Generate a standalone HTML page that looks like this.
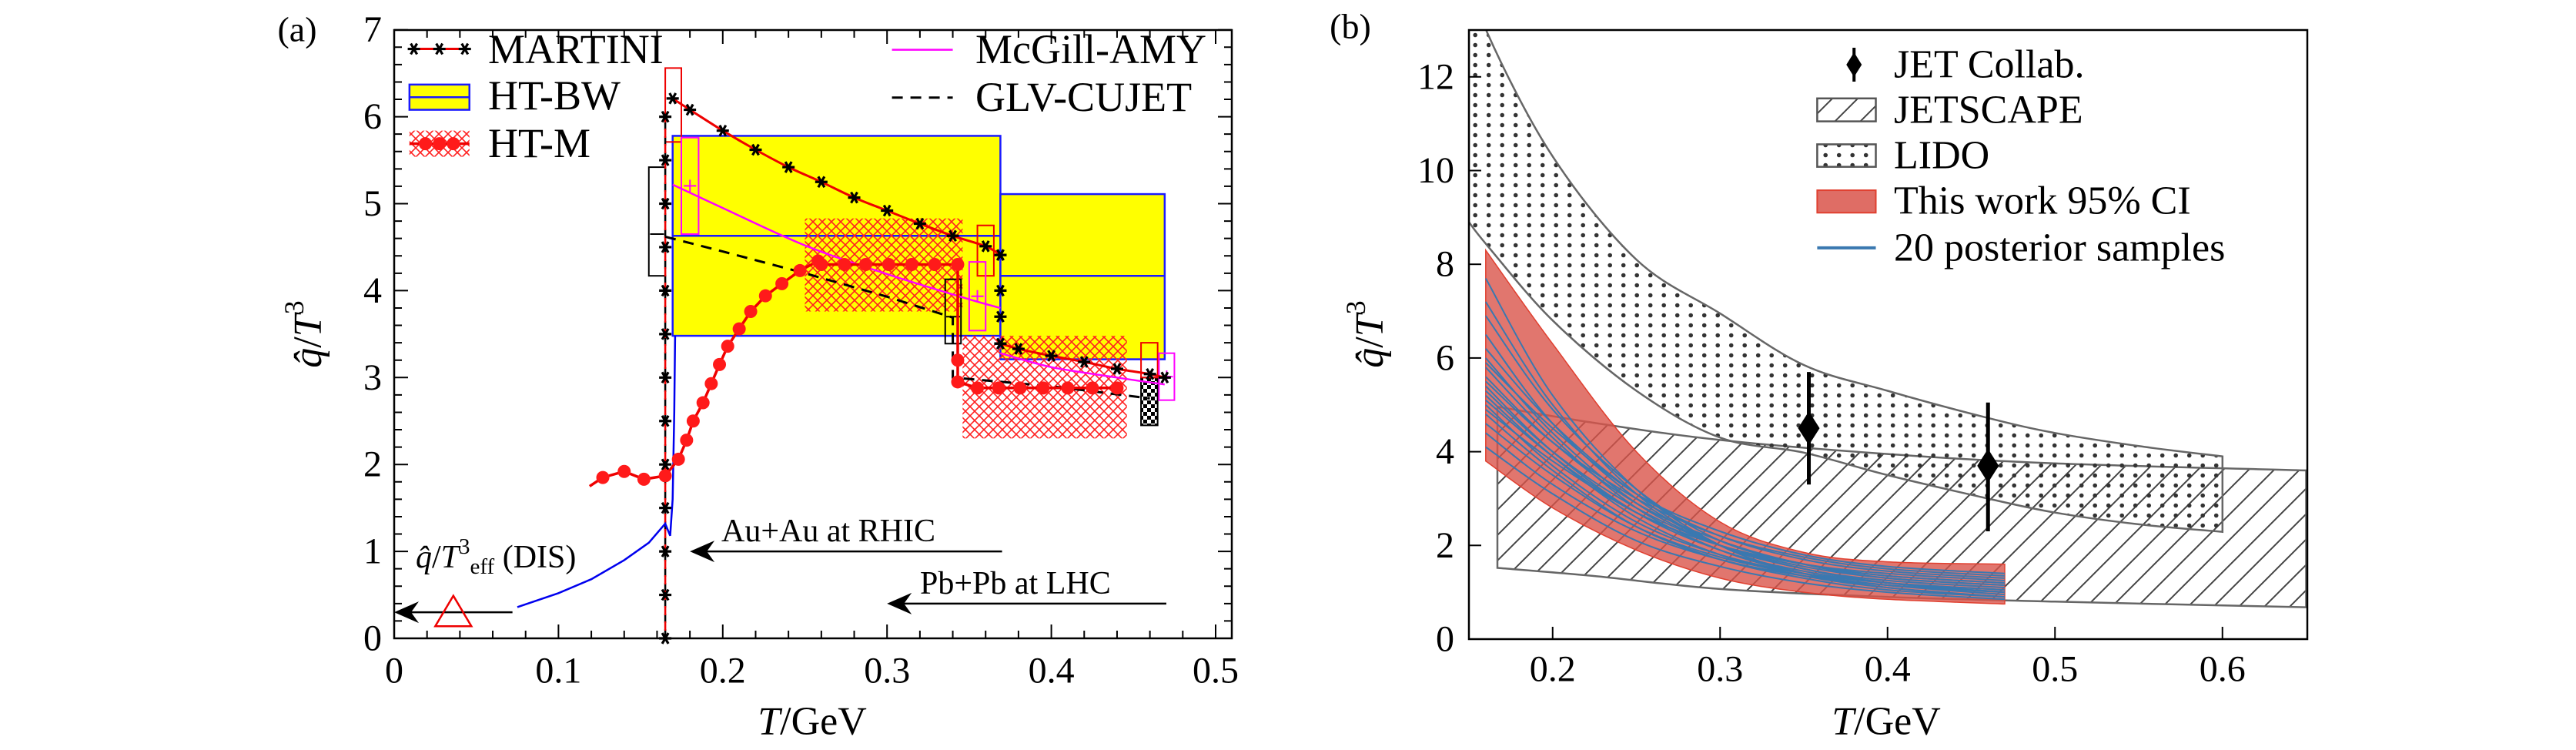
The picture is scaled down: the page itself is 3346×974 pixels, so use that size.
<!DOCTYPE html>
<html><head><meta charset="utf-8">
<style>
html,body{margin:0;padding:0;background:#fff;}
svg{display:block;font-family:"Liberation Serif","DejaVu Serif",serif;}
</style></head>
<body>
<svg id="fig" width="3346" height="974" viewBox="0 0 3346 974" xmlns="http://www.w3.org/2000/svg">
<defs>
<pattern id="xhatch" patternUnits="userSpaceOnUse" width="12" height="12"><path d="M0,0L12,12M12,0L0,12" stroke="#ff2020" stroke-width="1.6"/></pattern>
<pattern id="diag" patternUnits="userSpaceOnUse" width="33" height="33"><path d="M0,33L33,0M-6,6L6,-6M27,39L39,27" stroke="#444" stroke-width="2"/></pattern>
<pattern id="dots" patternUnits="userSpaceOnUse" width="17.5" height="13"><circle cx="8.7" cy="6.5" r="2.8" fill="#333"/></pattern>
<pattern id="checker" patternUnits="userSpaceOnUse" width="10" height="10"><rect width="5" height="5" fill="#000"/><rect x="5" y="5" width="5" height="5" fill="#000"/></pattern>
<clipPath id="clipB"><rect x="1908" y="39" width="1089" height="791"/></clipPath>
</defs>
<g id="pa"></g>
<g id="pb"></g>

<!-- static text panel a -->
<text x="386" y="38" font-size="46" text-anchor="middle" dominant-baseline="central">(a)</text>
<text transform="translate(400,434) rotate(-90)" font-size="52" text-anchor="middle" dominant-baseline="central"><tspan font-style="italic">q̂</tspan>/<tspan font-style="italic">T</tspan><tspan dy="-18" font-size="36">3</tspan></text>
<text x="1055" y="937" font-size="52" text-anchor="middle" dominant-baseline="central"><tspan font-style="italic">T</tspan>/GeV</text>
<text x="634" y="64" font-size="54" dominant-baseline="central">MARTINI</text>
<text x="634" y="124" font-size="54" dominant-baseline="central">HT-BW</text>
<text x="634" y="186" font-size="54" dominant-baseline="central">HT-M</text>
<text x="1267" y="64" font-size="54" dominant-baseline="central">McGill-AMY</text>
<text x="1267" y="126" font-size="54" dominant-baseline="central">GLV-CUJET</text>
<text x="540" y="724" font-size="42" dominant-baseline="central"><tspan font-style="italic">q̂</tspan>/<tspan font-style="italic">T</tspan><tspan dy="-14" font-size="29">3</tspan><tspan dy="26" font-size="29">eff</tspan><tspan dy="-12"> (DIS)</tspan></text>
<text x="937" y="690" font-size="42" dominant-baseline="central">Au+Au at RHIC</text>
<text x="1195" y="758" font-size="42" dominant-baseline="central">Pb+Pb at LHC</text>

<!-- static text panel b -->
<text x="1754" y="34" font-size="46" text-anchor="middle" dominant-baseline="central">(b)</text>
<text transform="translate(1779,434) rotate(-90)" font-size="52" text-anchor="middle" dominant-baseline="central"><tspan font-style="italic">q̂</tspan>/<tspan font-style="italic">T</tspan><tspan dy="-18" font-size="36">3</tspan></text>
<text x="2450" y="937" font-size="52" text-anchor="middle" dominant-baseline="central"><tspan font-style="italic">T</tspan>/GeV</text>
<text x="2460" y="84" font-size="52" dominant-baseline="central">JET Collab.</text>
<text x="2460" y="143" font-size="52" dominant-baseline="central">JETSCAPE</text>
<text x="2460" y="202" font-size="52" dominant-baseline="central">LIDO</text>
<text x="2460" y="261" font-size="52" dominant-baseline="central">This work 95% CI</text>
<text x="2460" y="322" font-size="52" dominant-baseline="central">20 posterior samples</text>

<script>
// ===== Panel A data =====
const aXTicks = [0, 0.1, 0.2, 0.3, 0.4, 0.5];
const aXTickLabels = ["0", "0.1", "0.2", "0.3", "0.4", "0.5"];
const aYTicks = [0, 1, 2, 3, 4, 5, 6, 7];
const aYTickLabels = ["0", "1", "2", "3", "4", "5", "6", "7"];
const martiniVertT = 0.165;
const martiniVertQ = [0, 0.5, 1, 1.5, 2, 2.5, 3, 3.5, 4, 4.5, 5, 5.5, 6];
const martiniT1 = [0.1695, 0.18, 0.2, 0.22, 0.24, 0.26, 0.28, 0.30, 0.32, 0.34, 0.36, 0.369];
const martiniQ1 = [6.21, 6.08, 5.84, 5.62, 5.42, 5.25, 5.07, 4.92, 4.77, 4.63, 4.51, 4.41];
const martiniDropT = 0.369;
const martiniDropQ = [4.41, 4.0, 3.7, 3.39];
const martiniT2 = [0.369, 0.38, 0.40, 0.42, 0.44, 0.46, 0.469];
const martiniQ2 = [3.39, 3.33, 3.25, 3.18, 3.10, 3.04, 3.0];
const htmT = [0.119, 0.127, 0.14, 0.152, 0.165, 0.173, 0.178, 0.182, 0.188, 0.193, 0.198, 0.203, 0.21, 0.217, 0.226, 0.236, 0.247, 0.258, 0.26, 0.274, 0.287, 0.301, 0.315, 0.329, 0.343, 0.343, 0.343, 0.343, 0.355, 0.368, 0.381, 0.395, 0.41, 0.425, 0.44];
const htmQ = [1.75, 1.85, 1.92, 1.83, 1.87, 2.06, 2.28, 2.5, 2.71, 2.93, 3.15, 3.36, 3.56, 3.76, 3.94, 4.08, 4.23, 4.34, 4.3, 4.3, 4.3, 4.3, 4.3, 4.3, 4.3, 3.66, 3.2, 2.95, 2.88, 2.88, 2.88, 2.88, 2.88, 2.88, 2.88];
const htmDot = [0, 1, 1, 1, 1, 1, 1, 1, 1, 1, 1, 1, 1, 1, 1, 1, 1, 1, 1, 1, 1, 1, 1, 1, 1, 0, 1, 1, 1, 1, 1, 1, 1, 1, 1];
const htmBoxT0 = [0.25, 0.346];
const htmBoxT1 = [0.346, 0.446];
const htmBoxLo = [3.76, 2.3];
const htmBoxHi = [4.83, 3.48];
const htbwT0 = [0.1695, 0.369];
const htbwT1 = [0.369, 0.469];
const htbwLo = [3.48, 3.21];
const htbwMid = [4.63, 4.17];
const htbwHi = [5.78, 5.11];
const amyT1 = [0.1695, 0.2, 0.25, 0.3, 0.35, 0.369];
const amyQ1 = [5.22, 4.95, 4.52, 4.19, 3.9, 3.8];
const amyT2 = [0.369, 0.4, 0.44, 0.469];
const amyQ2 = [3.28, 3.12, 3.0, 2.92];
const amyBoxT0 = [0.1748, 0.35, 0.4655];
const amyBoxT1 = [0.1853, 0.36, 0.4749];
const amyBoxLo = [4.65, 3.54, 2.74];
const amyBoxHi = [5.76, 4.33, 3.28];
const redBoxT0 = [0.165, 0.355, 0.4546];
const redBoxT1 = [0.1748, 0.365, 0.4647];
const redBoxLo = [5.71, 4.17, 3.0];
const redBoxHi = [6.56, 4.75, 3.4];
const blkBoxT0 = [0.155, 0.3354];
const blkBoxT1 = [0.165, 0.345];
const blkBoxLo = [4.17, 3.39];
const blkBoxHi = [5.42, 4.13];
const blkBoxMid = [4.65, 3.7];
const glvT = [0.165, 0.2, 0.25, 0.3, 0.34, 0.34, 0.4, 0.46];
const glvQ = [4.62, 4.45, 4.2, 3.93, 3.69, 3.0, 2.9, 2.76];
const blueT = [0.075, 0.1, 0.12, 0.14, 0.155, 0.165, 0.168, 0.1695, 0.1705, 0.171];
const blueQ = [0.36, 0.52, 0.68, 0.9, 1.1, 1.32, 1.18, 1.6, 2.6, 3.48];

// ===== Panel B data =====
const bXTicks = [0.2, 0.3, 0.4, 0.5, 0.6];
const bXTickLabels = ["0.2", "0.3", "0.4", "0.5", "0.6"];
const bYTicks = [0, 2, 4, 6, 8, 10, 12];
const bYTickLabels = ["0", "2", "4", "6", "8", "10", "12"];
const lidoT = [0.15, 0.161, 0.2, 0.25, 0.3, 0.35, 0.4, 0.46, 0.5, 0.55, 0.6];
const lidoUp = [14.3, 12.94, 10.3, 8.1, 6.95, 5.85, 5.3, 4.72, 4.4, 4.12, 3.9];
const lidoLo = [8.9, 8.4, 6.8, 5.3, 4.3, 3.98, 3.5, 3.0, 2.7, 2.45, 2.29];
const jsT = [0.167, 0.224, 0.3, 0.4, 0.5, 0.65];
const jsUp = [4.96, 4.62, 4.25, 3.95, 3.75, 3.6];
const jsLo = [1.52, 1.35, 1.07, 0.9, 0.8, 0.68];
const bandT = [0.16, 0.2, 0.25, 0.3, 0.35, 0.4, 0.47];
const bandUp = [8.3, 6.3, 4.0, 2.5, 1.85, 1.65, 1.6];
const bandLo = [3.8, 2.8, 1.9, 1.3, 1.0, 0.85, 0.75];
const s01 = [7.7, 5.2, 3.2, 2.0, 1.4, 1.1, 0.9];
const s02 = [7.2, 5.0, 3.1, 2.0, 1.5, 1.2, 1.0];
const s03 = [6.9, 4.9, 3.2, 2.1, 1.6, 1.3, 1.15];
const s04 = [6.5, 4.6, 3.0, 2.0, 1.5, 1.25, 1.1];
const s05 = [6.2, 4.6, 3.1, 2.2, 1.7, 1.45, 1.3];
const s06 = [6.0, 4.4, 2.9, 2.0, 1.5, 1.2, 1.0];
const s07 = [5.9, 4.5, 3.1, 2.3, 1.8, 1.55, 1.4];
const s08 = [5.8, 4.3, 2.8, 1.9, 1.4, 1.15, 0.95];
const s09 = [5.6, 4.2, 2.9, 2.1, 1.6, 1.35, 1.2];
const s10 = [5.5, 4.2, 3.0, 2.2, 1.75, 1.5, 1.35];
const s11 = [5.4, 4.0, 2.7, 1.9, 1.45, 1.2, 1.05];
const s12 = [5.3, 4.0, 2.8, 2.0, 1.55, 1.3, 1.15];
const s13 = [5.2, 3.9, 2.6, 1.8, 1.35, 1.1, 0.9];
const s14 = [5.1, 3.9, 2.7, 2.0, 1.6, 1.4, 1.25];
const s15 = [5.0, 3.7, 2.5, 1.8, 1.4, 1.15, 1.0];
const s16 = [4.9, 3.8, 2.7, 2.0, 1.6, 1.35, 1.2];
const s17 = [4.8, 3.6, 2.4, 1.7, 1.3, 1.05, 0.9];
const s18 = [4.6, 3.5, 2.4, 1.75, 1.4, 1.2, 1.05];
const s19 = [4.4, 3.3, 2.3, 1.7, 1.35, 1.15, 1.0];
const s20 = [4.1, 3.1, 2.1, 1.55, 1.2, 1.0, 0.85];
const samples = [s01, s02, s03, s04, s05, s06, s07, s08, s09, s10, s11, s12, s13, s14, s15, s16, s17, s18, s19, s20];
const jetT = [0.353, 0.46];
const jetQ = [4.5, 3.7];
const jetLo = [3.3, 2.3];
const jetHi = [5.7, 5.05];

// ===== helpers =====
const NS = "http://www.w3.org/2000/svg";
function xa(v) { return 512 + v * 2134; }
function ya(v) { return 829 - v * 112.9; }
function xb(v) { return 1908 + (v - 0.15) * 2175; }
function yb(v) { return 830 - v * 60.85; }
function mk(parent, tag, attrs, name, inter) {
  const el = document.createElementNS(NS, tag);
  for (const k in attrs) el.setAttribute(k, attrs[k]);
  
  
  parent.appendChild(el);
  return el;
}
function linPath(xs, ys, fx, fy) {
  return xs.map((t, i) => (i ? 'L' : 'M') + fx(t).toFixed(1) + ',' + fy(ys[i]).toFixed(1)).join('');
}
function smoothPts(pts, start) {
  let d = (start ? 'M' : 'L') + pts[0][0].toFixed(1) + ',' + pts[0][1].toFixed(1);
  for (let i = 0; i < pts.length - 1; i++) {
    const p0 = pts[Math.max(i - 1, 0)], p1 = pts[i], p2 = pts[i + 1], p3 = pts[Math.min(i + 2, pts.length - 1)];
    const c1 = [p1[0] + (p2[0] - p0[0]) / 6, p1[1] + (p2[1] - p0[1]) / 6];
    const c2 = [p2[0] - (p3[0] - p1[0]) / 6, p2[1] - (p3[1] - p1[1]) / 6];
    d += 'C' + c1[0].toFixed(1) + ',' + c1[1].toFixed(1) + ' ' + c2[0].toFixed(1) + ',' + c2[1].toFixed(1) + ' ' + p2[0].toFixed(1) + ',' + p2[1].toFixed(1);
  }
  return d;
}
function smoothPath(xs, ys, fx, fy) { return smoothPts(xs.map((t, i) => [fx(t), fy(ys[i])]), true); }
function bandPath(xs, up, lo, fx, fy) {
  const top = xs.map((t, i) => [fx(t), fy(up[i])]);
  const bot = xs.map((t, i) => [fx(t), fy(lo[i])]).reverse();
  return smoothPts(top, true) + smoothPts(bot, false) + 'Z';
}
function star(parent, cx, cy, name) {
  const r = 8;
  const d = `M${cx - r},${cy}L${cx + r},${cy}M${cx - r / 2},${cy - r * 0.87}L${cx + r / 2},${cy + r * 0.87}M${cx - r / 2},${cy + r * 0.87}L${cx + r / 2},${cy - r * 0.87}`;
  mk(parent, 'path', { d: d, stroke: '#000', 'stroke-width': 3.2, fill: 'none' }, name, false);
}

// ===== Panel A =====
const A = document.getElementById('pa');
htbwT0.forEach((t0, i) => {
  mk(A, 'rect', { x: xa(t0), y: ya(htbwHi[i]), width: xa(htbwT1[i]) - xa(t0), height: ya(htbwLo[i]) - ya(htbwHi[i]), fill: '#ffff00', stroke: '#1a1aff', 'stroke-width': 2.5 }, 'htbw-box', false);
  mk(A, 'line', { x1: xa(t0), x2: xa(htbwT1[i]), y1: ya(htbwMid[i]), y2: ya(htbwMid[i]), stroke: '#1a1aff', 'stroke-width': 2.5 }, 'htbw-mid-line', false);
});
htmBoxT0.forEach((t0, i) => {
  mk(A, 'rect', { x: xa(t0), y: ya(htmBoxHi[i]), width: xa(htmBoxT1[i]) - xa(t0), height: ya(htmBoxLo[i]) - ya(htmBoxHi[i]), fill: 'url(#xhatch)' }, 'htm-band', false);
});
blkBoxT0.forEach((t0, i) => {
  mk(A, 'rect', { x: xa(t0), y: ya(blkBoxHi[i]), width: xa(blkBoxT1[i]) - xa(t0), height: ya(blkBoxLo[i]) - ya(blkBoxHi[i]), fill: 'none', stroke: '#000', 'stroke-width': 2 }, 'glv-error-box', false);
  const cx = (xa(t0) + xa(blkBoxT1[i])) / 2;
  mk(A, 'path', { d: `M${cx - 9},${ya(blkBoxMid[i])}L${cx + 9},${ya(blkBoxMid[i])}`, stroke: '#000', 'stroke-width': 2 }, 'glv-box-center', false);
});
mk(A, 'rect', { x: xa(0.4546), y: ya(3.0), width: xa(0.4647) - xa(0.4546), height: ya(2.45) - ya(3.0), fill: 'url(#checker)', stroke: '#000', 'stroke-width': 2 }, 'glv-checker-box', false);
redBoxT0.forEach((t0, i) => {
  mk(A, 'rect', { x: xa(t0), y: ya(redBoxHi[i]), width: xa(redBoxT1[i]) - xa(t0), height: ya(redBoxLo[i]) - ya(redBoxHi[i]), fill: 'none', stroke: '#e00', 'stroke-width': 2 }, 'htm-error-box', false);
});
amyBoxT0.forEach((t0, i) => {
  mk(A, 'rect', { x: xa(t0), y: ya(amyBoxHi[i]), width: xa(amyBoxT1[i]) - xa(t0), height: ya(amyBoxLo[i]) - ya(amyBoxHi[i]), fill: 'none', stroke: '#ff00ff', 'stroke-width': 2 }, 'amy-error-box', false);
  const cx = (xa(t0) + xa(amyBoxT1[i])) / 2, cy = ya((amyBoxHi[i] + amyBoxLo[i]) / 2);
  mk(A, 'path', { d: `M${cx - 8},${cy}L${cx + 8},${cy}M${cx},${cy - 8}L${cx},${cy + 8}`, stroke: '#ff00ff', 'stroke-width': 2 }, 'amy-box-center', false);
});
mk(A, 'line', { x1: xa(martiniVertT), x2: xa(martiniVertT), y1: ya(0), y2: ya(6.0), stroke: '#000', 'stroke-width': 2.5, 'stroke-dasharray': '12 8' }, 'tc-black-dashed', false);
mk(A, 'line', { x1: xa(martiniVertT), x2: xa(martiniVertT), y1: ya(0), y2: ya(6.0), stroke: '#e00', 'stroke-width': 2.5, 'stroke-dasharray': '12 8', 'stroke-dashoffset': 10 }, 'tc-red-dashed', false);
mk(A, 'path', { d: linPath(blueT, blueQ, xa, ya), fill: 'none', stroke: '#0000ee', 'stroke-width': 2.5 }, 'blue-curve', false);
mk(A, 'path', { d: linPath(glvT, glvQ, xa, ya), fill: 'none', stroke: '#000', 'stroke-width': 3, 'stroke-dasharray': '14 10' }, 'glv-cujet-line', false);
mk(A, 'path', { d: smoothPath(amyT1, amyQ1, xa, ya), fill: 'none', stroke: '#ff00ff', 'stroke-width': 2.5 }, 'mcgill-amy-line', false);
mk(A, 'path', { d: smoothPath(amyT2, amyQ2, xa, ya), fill: 'none', stroke: '#ff00ff', 'stroke-width': 2.5 }, 'mcgill-amy-line', false);
mk(A, 'path', { d: smoothPath(martiniT1, martiniQ1, xa, ya), fill: 'none', stroke: '#e00', 'stroke-width': 3 }, 'martini-line', false);
mk(A, 'path', { d: smoothPath(martiniT2, martiniQ2, xa, ya), fill: 'none', stroke: '#e00', 'stroke-width': 3 }, 'martini-line', false);
martiniVertQ.forEach(q => star(A, xa(martiniVertT), ya(q), 'martini-point'));
martiniT1.forEach((t, i) => star(A, xa(t), ya(martiniQ1[i]), 'martini-point'));
martiniDropQ.forEach(q => star(A, xa(martiniDropT), ya(q), 'martini-point'));
martiniT2.forEach((t, i) => star(A, xa(t), ya(martiniQ2[i]), 'martini-point'));
mk(A, 'path', { d: linPath(htmT, htmQ, xa, ya), fill: 'none', stroke: '#e00', 'stroke-width': 3.5 }, 'htm-line', false);
htmT.forEach((t, i) => {
  if (htmDot[i]) mk(A, 'circle', { cx: xa(t), cy: ya(htmQ[i]), r: 8.5, fill: '#ff1a1a' }, 'htm-point', false);
});
function arrow(x1, x2, y, name) {
  mk(A, 'line', { x1: x1, x2: x2 + 20, y1: y, y2: y, stroke: '#000', 'stroke-width': 2.5 }, name, false);
  mk(A, 'path', { d: `M${x2},${y}L${x2 + 32},${y - 14}L${x2 + 22},${y}L${x2 + 32},${y + 14}Z`, fill: '#000' }, name + '-head', false);
}
arrow(xa(0.072), xa(0.0), ya(0.3), 'dis-arrow');
arrow(xa(0.37), xa(0.18), ya(1.0), 'rhic-arrow');
arrow(xa(0.47), xa(0.3), ya(0.4), 'lhc-arrow');
mk(A, 'path', { d: `M${xa(0.036)},${ya(0.49)}L${xa(0.047)},${ya(0.14)}L${xa(0.025)},${ya(0.14)}Z`, fill: 'none', stroke: '#e00', 'stroke-width': 2.5 }, 'dis-triangle', false);
mk(A, 'line', { x1: xa(0.0093), x2: xa(0.0458), y1: ya(6.78), y2: ya(6.78), stroke: '#e00', 'stroke-width': 3 }, 'legend-martini-line', false);
[0.012, 0.0275, 0.043].forEach(t => star(A, xa(t), ya(6.78), 'legend-martini-marker'));
mk(A, 'rect', { x: xa(0.0093), y: ya(6.37), width: xa(0.0458) - xa(0.0093), height: ya(6.08) - ya(6.37), fill: '#ffff00', stroke: '#1a1aff', 'stroke-width': 2.5 }, 'legend-htbw-swatch', false);
mk(A, 'line', { x1: xa(0.0093), x2: xa(0.0458), y1: ya(6.225), y2: ya(6.225), stroke: '#1a1aff', 'stroke-width': 2.5 }, 'legend-htbw-mid', false);
mk(A, 'rect', { x: xa(0.0093), y: ya(5.84), width: xa(0.0458) - xa(0.0093), height: ya(5.54) - ya(5.84), fill: 'url(#xhatch)' }, 'legend-htm-swatch', false);
mk(A, 'line', { x1: xa(0.0093), x2: xa(0.0458), y1: ya(5.69), y2: ya(5.69), stroke: '#e00', 'stroke-width': 3.5 }, 'legend-htm-line', false);
[0.019, 0.0275, 0.036].forEach(t => mk(A, 'circle', { cx: xa(t), cy: ya(5.69), r: 8.5, fill: '#ff1a1a' }, 'legend-htm-marker', false));
mk(A, 'line', { x1: xa(0.303), x2: xa(0.34), y1: ya(6.77), y2: ya(6.77), stroke: '#ff00ff', 'stroke-width': 2.5 }, 'legend-mcgill-line', false);
mk(A, 'line', { x1: xa(0.303), x2: xa(0.34), y1: ya(6.22), y2: ya(6.22), stroke: '#000', 'stroke-width': 3, 'stroke-dasharray': '14 10' }, 'legend-glv-line', false);
mk(A, 'rect', { x: 512, y: 39, width: 1088, height: 790, fill: 'none', stroke: '#000', 'stroke-width': 2.5 }, 'plot-frame-a', false);
for (let k = 0; k <= 27; k++) {
  const t = k * 0.02; if (xa(t) > 1600) break;
  const L = (k % 5 === 0) ? 18 : 10;
  mk(A, 'path', { d: `M${xa(t)},829L${xa(t)},${829 - L}M${xa(t)},39L${xa(t)},${39 + L}`, stroke: '#000', 'stroke-width': 2 }, 'x-tick-a', false);
}
for (let k = 0; k <= 35; k++) {
  const q = k * 0.2; const L = (k % 5 === 0) ? 18 : 10;
  mk(A, 'path', { d: `M512,${ya(q)}L${512 + L},${ya(q)}M1600,${ya(q)}L${1600 - L},${ya(q)}`, stroke: '#000', 'stroke-width': 2 }, 'y-tick-a', false);
}
aXTicks.forEach((t, i) => { const e = mk(A, 'text', { x: xa(t), y: 871, 'font-size': 48, 'text-anchor': 'middle', 'dominant-baseline': 'central' }, 'x-tick-label-a', false); e.textContent = aXTickLabels[i]; });
aYTicks.forEach((q, i) => { const e = mk(A, 'text', { x: 496, y: ya(q), 'font-size': 48, 'text-anchor': 'end', 'dominant-baseline': 'central' }, 'y-tick-label-a', false); e.textContent = aYTickLabels[i]; });

// ===== Panel B =====
const B = document.getElementById('pb');
const Bc = mk(B, 'g', { 'clip-path': 'url(#clipB)' }, 'panel-b-plot-area', false);
mk(Bc, 'path', { d: bandPath(jsT, jsUp, jsLo, xb, yb), fill: 'url(#diag)', stroke: '#666', 'stroke-width': 2.5 }, 'jetscape-band', false);
mk(Bc, 'path', { d: bandPath(lidoT, lidoUp, lidoLo, xb, yb), fill: 'url(#dots)', stroke: '#666', 'stroke-width': 2.5 }, 'lido-band', false);
mk(Bc, 'path', { d: bandPath(bandT, bandUp, bandLo, xb, yb), fill: '#d9544a', 'fill-opacity': 0.8, stroke: '#e04030', 'stroke-width': 1.5 }, 'this-work-band', false);
samples.forEach(s => mk(Bc, 'path', { d: smoothPath(bandT, s, xb, yb), fill: 'none', stroke: '#3a78b0', 'stroke-width': 2 }, 'posterior-sample-line', false));
jetT.forEach((t, i) => {
  mk(Bc, 'line', { x1: xb(t), x2: xb(t), y1: yb(jetLo[i]), y2: yb(jetHi[i]), stroke: '#000', 'stroke-width': 5 }, 'jet-error-bar', false);
  const cx = xb(t), cy = yb(jetQ[i]);
  mk(Bc, 'path', { d: `M${cx},${cy - 22}L${cx + 14},${cy}L${cx},${cy + 22}L${cx - 14},${cy}Z`, fill: '#000' }, 'jet-point', false);
});
{
  const cx = xb(0.380), cy = yb(12.26);
  mk(B, 'line', { x1: cx, x2: cx, y1: cy - 22, y2: cy + 22, stroke: '#000', 'stroke-width': 4 }, 'legend-jet-errbar', false);
  mk(B, 'path', { d: `M${cx},${cy - 16}L${cx + 10},${cy}L${cx},${cy + 16}L${cx - 10},${cy}Z`, fill: '#000' }, 'legend-jet-marker', false);
}
mk(B, 'rect', { x: xb(0.358), y: yb(11.54), width: xb(0.393) - xb(0.358), height: yb(11.05) - yb(11.54), fill: 'url(#diag)', stroke: '#555', 'stroke-width': 2.5 }, 'legend-jetscape-swatch', false);
mk(B, 'rect', { x: xb(0.358), y: yb(10.56), width: xb(0.393) - xb(0.358), height: yb(10.08) - yb(10.56), fill: 'url(#dots)', stroke: '#555', 'stroke-width': 2.5 }, 'legend-lido-swatch', false);
mk(B, 'rect', { x: xb(0.358), y: yb(9.58), width: xb(0.393) - xb(0.358), height: yb(9.1) - yb(9.58), fill: '#d9544a', 'fill-opacity': 0.85, stroke: '#e04030', 'stroke-width': 2 }, 'legend-thiswork-swatch', false);
mk(B, 'line', { x1: xb(0.358), x2: xb(0.393), y1: yb(8.35), y2: yb(8.35), stroke: '#3a78b0', 'stroke-width': 4 }, 'legend-samples-line', false);
mk(B, 'rect', { x: 1908, y: 39, width: 1089, height: 791, fill: 'none', stroke: '#000', 'stroke-width': 2.5 }, 'plot-frame-b', false);
bXTicks.forEach((t, i) => {
  mk(B, 'line', { x1: xb(t), x2: xb(t), y1: 830, y2: 814, stroke: '#000', 'stroke-width': 2 }, 'x-tick-b', false);
  const e = mk(B, 'text', { x: xb(t), y: 869, 'font-size': 48, 'text-anchor': 'middle', 'dominant-baseline': 'central' }, 'x-tick-label-b', false); e.textContent = bXTickLabels[i];
});
bYTicks.forEach((q, i) => {
  mk(B, 'line', { x1: 1908, x2: 1924, y1: yb(q), y2: yb(q), stroke: '#000', 'stroke-width': 2 }, 'y-tick-b', false);
  const e = mk(B, 'text', { x: 1889, y: yb(q), 'font-size': 48, 'text-anchor': 'end', 'dominant-baseline': 'central' }, 'y-tick-label-b', false); e.textContent = bYTickLabels[i];
});
</script>
</svg>
</body></html>
